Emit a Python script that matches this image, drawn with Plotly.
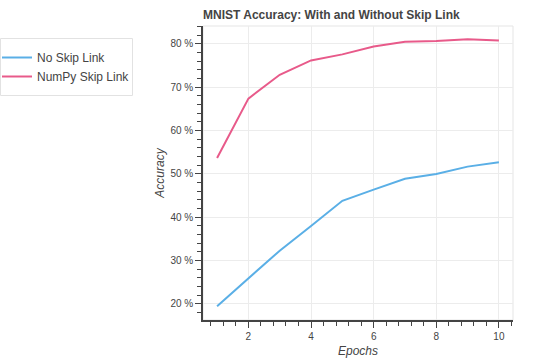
import plotly.graph_objects as go

epochs = [1, 2, 3, 4, 5, 6, 7, 8, 9, 10]
no_skip = [19.5, 25.8, 32.3, 38.0, 43.8, 46.4, 48.9, 50.0, 51.7, 52.7]
numpy_skip = [53.7, 67.4, 72.9, 76.2, 77.6, 79.4, 80.5, 80.7, 81.1, 80.8]
y_ticks = [20, 30, 40, 50, 60, 70, 80]
x_ticks = [2, 4, 6, 8, 10]

font = "Liberation Sans, Arial, Helvetica, sans-serif"
PW, PH = 310, 294  # plot area size in px

fig = go.Figure()
fig.add_trace(go.Scatter(x=epochs, y=no_skip, mode="lines", name="No Skip Link",
                         line=dict(color="#5AAFE6", width=2)))
fig.add_trace(go.Scatter(x=epochs, y=numpy_skip, mode="lines", name="NumPy Skip Link",
                         line=dict(color="#E85A8A", width=2)))

axis_common = dict(
    showline=True, linecolor="#444444", linewidth=1.5,
    ticks="outside", ticklen=6, tickcolor="#444444", tickwidth=1,
    gridcolor="#ececec", gridwidth=1, zeroline=False,
    tickfont=dict(size=10, color="#444444", family=font),
)

fig.update_layout(
    width=539, height=359,
    margin=dict(l=203, r=26, t=26, b=39, autoexpand=False),
    plot_bgcolor="white", paper_bgcolor="white",
    font=dict(family=font, color="#444444"),
    title=dict(text="<b>MNIST Accuracy: With and Without Skip Link</b>",
               x=203/539, xanchor="left", y=1 - 15/359, yanchor="middle",
               font=dict(size=12, color="#444444", family=font)),
    showlegend=True,
    legend=dict(x=-206/PW, xanchor="left", y=1 - 17/PH, yanchor="top",
                borderwidth=0, bgcolor="rgba(0,0,0,0)",
                font=dict(size=12, color="#444444", family=font),
                tracegroupgap=0, itemwidth=30),
    xaxis=dict(range=[0.55, 10.45], tickvals=x_ticks, ticktext=[str(v) for v in x_ticks],
               minor=dict(ticks="outside", ticklen=4, dtick=0.4, tick0=0, tickcolor="#444444", showgrid=False),
               title=dict(text="<i>Epochs</i>", font=dict(size=12, color="#444444", family=font), standoff=6),
               automargin=False, **axis_common),
    yaxis=dict(range=[16.3, 84.15], tickvals=y_ticks, ticktext=[f"{v} %" for v in y_ticks],
               minor=dict(ticks="outside", ticklen=4, dtick=2, tick0=0, tickcolor="#444444", showgrid=False),
               title=dict(text="<i>Accuracy</i>", font=dict(size=12, color="#444444", family=font), standoff=3),
               automargin=False, **axis_common),
)

# plot outline (top/right)
fig.add_shape(type="rect", xref="paper", yref="paper", x0=0, y0=0, x1=1, y1=1,
              line=dict(color="#e5e5e5", width=1), layer="below")
# legend frame
fig.add_shape(type="rect", xref="paper", yref="paper",
              x0=-202.5/PW, x1=(132.5-203)/PW, y0=1 - (95.5-26)/PH, y1=1 - (38.5-26)/PH,
              line=dict(color="#e2e2e2", width=1), layer="above")

fig.write_html("out.html", config={"displayModeBar": False},
               post_script="document.body.style.margin='0';document.body.style.overflow='hidden';")
